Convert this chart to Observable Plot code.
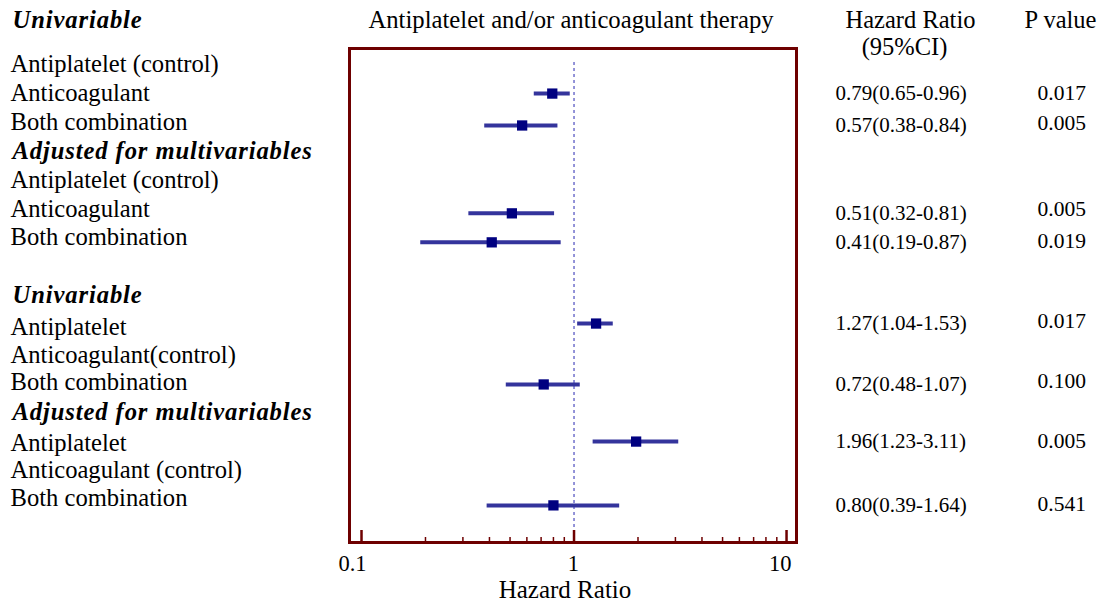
<!DOCTYPE html>
<html>
<head>
<meta charset="utf-8">
<script src="https://cdn.jsdelivr.net/npm/d3@7"></script>
<script src="https://cdn.jsdelivr.net/npm/@observablehq/plot@0.6"></script>
<style>
  html, body { margin: 0; padding: 0; background: #fff; }
  #chart svg { display: block; }
  #chart svg text { font-family: "Liberation Serif", "Times New Roman", serif; }
</style>
</head>
<body>
<div id="chart"></div>
<script>
// ---- Data ----
const rowLabels = ["Univariable", "Antiplatelet (control)", "Anticoagulant", "Both combination",
  "Adjusted for multivariables", "Antiplatelet (control)", "Anticoagulant", "Both combination",
  "Univariable", "Antiplatelet", "Anticoagulant(control)", "Both combination",
  "Adjusted for multivariables", "Antiplatelet", "Anticoagulant (control)", "Both combination"];
const rowIsHeader = [true, false, false, false, true, false, false, false,
  true, false, false, false, true, false, false, false];
const rowPos = [0, 1.5, 2.5, 3.52, 4.52, 5.5, 6.5, 7.48, 9.48, 10.59, 11.55, 12.48, 13.52, 14.59, 15.52, 16.48];

const hrValues = [0.79, 0.57, 0.51, 0.41, 1.27, 0.72, 1.96, 0.80];
const ciLow = [0.65, 0.38, 0.32, 0.19, 1.04, 0.48, 1.23, 0.39];
const ciHigh = [0.96, 0.84, 0.81, 0.87, 1.53, 1.07, 3.11, 1.64];
const estPos = [2.52, 3.62, 6.65, 7.65, 10.45, 12.55, 14.52, 16.72];
const pValues = ["0.017", "0.005", "0.005", "0.019", "0.017", "0.100", "0.005", "0.541"];
const pPos = [2.52, 3.55, 6.5, 7.62, 10.38, 12.42, 14.52, 16.68];

const majorTicks = [0.1, 1, 10];
const minorTicks = [0.2, 0.3, 0.4, 0.5, 0.6, 0.7, 0.8, 0.9, 2, 3, 4, 5, 6, 7, 8, 9];
const tickLabels = ["0.1", "1", "10"];

const title = "Antiplatelet and/or anticoagulant therapy";
const xLabel = "Hazard Ratio";
const colHeaders = ["Hazard Ratio", "(95%CI)", "P value"];

// ---- Tables built from the arrays ----
const rows = rowLabels.map((t, i) => ({t, pos: rowPos[i], header: rowIsHeader[i]}));
const est = hrValues.map((v, i) => ({
  hr: v, lo: ciLow[i], hi: ciHigh[i], pos: estPos[i],
  txt: `${v.toFixed(2)}(${ciLow[i].toFixed(2)}-${ciHigh[i].toFixed(2)})`,
  p: pValues[i], ppos: pPos[i]
}));

const font = '"Liberation Serif", "Times New Roman", serif';
const maroon = "#6e0000";

const W = 1103, H = 611;
const mL = 349, mR = 307, mT = 48, mB = 69;
const innerH = H - mT - mB;
const T = (o) => ({fontFamily: font, fill: "#000", ...o});

const chart = Plot.plot({
  width: W, height: H,
  marginLeft: mL, marginRight: mR, marginTop: mT, marginBottom: mB,
  style: {fontFamily: font, background: "#fff", color: "#000", overflow: "visible"},
  x: {type: "log", domain: [0.0878, 11.14], axis: null},
  y: {type: "linear", domain: [28 / 29, 18], reverse: true, axis: null},
  marks: [
    // reference line at HR = 1
    Plot.ruleX([1], {y1: 1.45, y2: 18, stroke: "#7070cc", strokeWidth: 1.5, strokeDasharray: "3,3"}),
    // CI lines
    Plot.ruleY(est, {y: "pos", x1: "lo", x2: "hi", stroke: "#34349c", strokeWidth: 4}),
    // point estimates
    Plot.dot(est, {x: "hr", y: "pos", symbol: "square", r: 5.8, fill: "#000080", stroke: "none"}),
    // frame
    Plot.frame({stroke: maroon, strokeWidth: 3}),
    // ticks (inward)
    Plot.ruleX(majorTicks, {x: d => d, insetTop: innerH - 12, stroke: maroon, strokeWidth: 2.5}),
    Plot.ruleX(minorTicks, {x: d => d, insetTop: innerH - 5, stroke: maroon, strokeWidth: 1.5}),
    // tick labels
    Plot.text(majorTicks, T({x: d => d, text: (d, i) => tickLabels[i], frameAnchor: "bottom", textAnchor: "end", dx: 5, dy: 28, fontSize: 22.5})),
    // x label
    Plot.text([xLabel], T({text: d => d, frameAnchor: "bottom", textAnchor: "middle", dx: -8, dy: 55, fontSize: 25})),
    // title
    Plot.text([0], T({y: d => d, text: () => title, textAnchor: "middle", dx: -2, fontSize: 24.7})),
    // left labels
    Plot.text(rows.filter(d => !d.header), T({y: "pos", text: "t", frameAnchor: "left", dx: -339, textAnchor: "start", fontSize: 24.6})),
    Plot.text(rows.filter(d => d.header), T({y: "pos", text: "t", frameAnchor: "left", dx: -337, textAnchor: "start", fontSize: 24.6, fontWeight: "bold", fontStyle: "italic"})),
    // right column headers
    Plot.text([0], T({y: d => d, text: () => colHeaders[0], frameAnchor: "right", textAnchor: "middle", dx: 114, fontSize: 24.5})),
    Plot.text([0.93], T({y: d => d, text: () => colHeaders[1], frameAnchor: "right", textAnchor: "middle", dx: 108, fontSize: 24.5})),
    Plot.text([0], T({y: d => d, text: () => colHeaders[2], frameAnchor: "right", textAnchor: "middle", dx: 264, fontSize: 24.5})),
    // HR (95%CI) values
    Plot.text(est, T({y: "pos", text: "txt", frameAnchor: "right", dx: 39, textAnchor: "start", fontSize: 21})),
    // P values
    Plot.text(est, T({y: "ppos", text: "p", frameAnchor: "right", dx: 241, textAnchor: "start", fontSize: 21.5}))
  ]
});

// the bold-italic group headers are set slightly wider in the reference
const headerSet = new Set(rowLabels.filter((t, i) => rowIsHeader[i]));
d3.select(chart).selectAll("text")
  .filter(function () { return headerSet.has(this.textContent); })
  .style("letter-spacing", "0.9px");

document.getElementById("chart").appendChild(chart);
</script>
</body>
</html>
